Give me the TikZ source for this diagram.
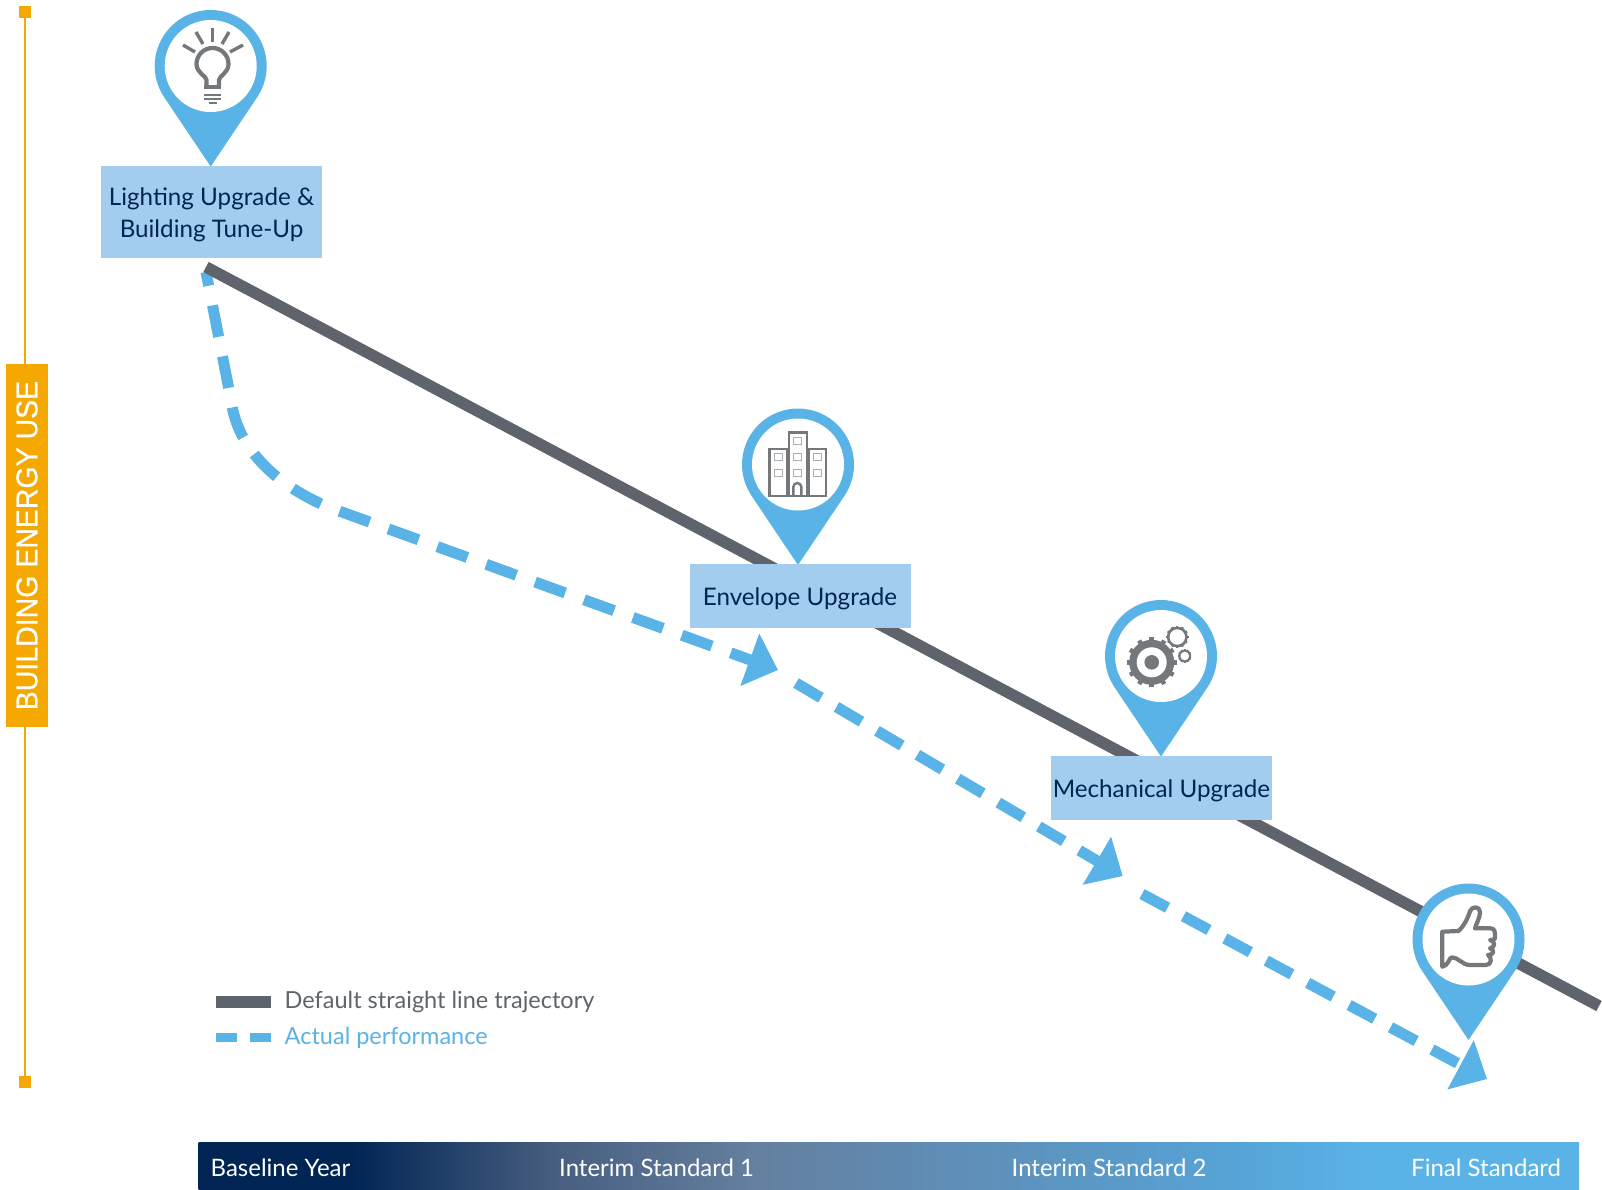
\documentclass[tikz,border=0pt]{standalone}
\usepackage{fontspec}
\setmainfont{Lato}
\newfontfamily\tagfont[FakeBold=0.6,FakeStretch=0.95]{Liberation Sans}
\usetikzlibrary{arrows.meta}
\definecolor{pinblue}{HTML}{5AB3E6}
\definecolor{boxblue}{HTML}{A3CDEE}
\definecolor{navy}{HTML}{002554}
\definecolor{slate}{HTML}{5F636C}
\definecolor{iconc}{HTML}{75787B}
\definecolor{amber}{HTML}{F5A800}
\definecolor{barb}{HTML}{485F80}
\definecolor{barc}{HTML}{647F9F}
\definecolor{bard}{HTML}{5D92BD}
\definecolor{bare}{HTML}{56A5D8}
\pgfdeclarehorizontalshading{barshade}{100bp}{color(0bp)=(navy); color(30.5bp)=(navy); color(38bp)=(barb); color(45bp)=(barc); color(54.5bp)=(bard); color(63bp)=(bare); color(67.5bp)=(pinblue); color(100bp)=(pinblue)}
\tikzset{
  labelbox/.style={fill=boxblue,text=navy,align=center,font=\fontsize{24.2}{32}\selectfont,inner sep=0pt,anchor=north west},
  bartext/.style={text=white,font=\fontsize{24}{28}\selectfont,anchor=base west,inner sep=0pt},
  legendtext/.style={font=\fontsize{23.5}{28}\selectfont,anchor=base west,inner sep=0pt},
  trend/.style={slate,line width=11.5pt},
  actual/.style={pinblue,line width=11pt,dash pattern=on 29pt off 18pt,-{Triangle[length=30pt,width=54pt]}},
  iconline/.style={iconc,line width=4.2pt},
  thinwin/.style={iconc!60,line width=1pt}
}
\begin{document}
\begin{tikzpicture}[x=1pt,y=-1pt]
  \useasboundingbox (0,0) rectangle (1602,1189);
  % vertical axis
  \coordinate (axtop) at (25,12);
  \coordinate (axbot) at (25,1082);
  \draw[amber,line width=2.5pt] (axtop)--(axbot);
  \fill[amber] (19,6) rectangle (31,18);
  \fill[amber] (19,1076) rectangle (31,1088);
  \node[fill=amber,text=white,rotate=90,minimum width=363pt,minimum height=42pt,inner sep=0pt,font=\tagfont\fontsize{30}{30}\selectfont] (tag) at (27,545.5) {BUILDING ENERGY USE};
  % trajectories
  \coordinate (start) at (206,267);
  \coordinate (stop) at (1599,1006);
  \coordinate (a0) at (206,272);
  \coordinate (a1) at (778,670);
  \coordinate (b0) at (796,683);
  \coordinate (b1) at (1122.7,876);
  \coordinate (c0) at (1142,894);
  \coordinate (c1) at (1487,1079);
  \draw[actual,dash pattern=on 32pt off 20pt,dash phase=18pt] (a0)--(231,400) .. controls (236,440) and (265,480) .. (328,507)--(a1);
  \draw[actual] (b0)--(b1);
  \draw[actual] (c0)--(c1);
  \draw[trend] (start)--(stop);
  % pins
  \foreach \cx/\cy in {210.7/66,798/464.5,1161/656,1468.5/939.5}{
    \fill[pinblue] (\cx,\cy) ++(146:56) arc[start angle=146,end angle=394,radius=56]--(\cx,\cy+100.5)--cycle;
    \fill[white] (\cx,\cy) circle(46);
  }
  % bulb
  \draw[iconline] (206.5,87)--(206.5,80) .. controls (206.5,76) and (196.5,73) .. (196.5,64) arc[start angle=180,end angle=360,radius=16] .. controls (228.5,73) and (219,76) .. (219,80)--(219,87);
  \draw[iconline,line width=3.4pt] (212.5,28)--(212.5,42);
  \draw[iconline,line width=3.4pt] (196,32)--(203,44);
  \draw[iconline,line width=3.4pt] (229,32)--(222,44);
  \draw[iconline,line width=3.4pt] (183,45)--(195,52);
  \draw[iconline,line width=3.4pt] (243,45)--(230,52);
  \draw[iconline] (204,87)--(221,87);
  \draw[iconline,line width=2.8pt] (204,95)--(221,95);
  \draw[iconline,line width=2.8pt] (204,99)--(221,99);
  \draw[iconline,line width=2.8pt] (208.5,103)--(216.5,103);
  % buildings
  \draw[iconline,line width=2.4pt] (788.7,496) rectangle (806.7,432.3);
  \draw[iconline,line width=2.4pt] (769.3,496) rectangle (786.7,449);
  \draw[iconline,line width=2.4pt] (808.7,496) rectangle (826,449);
  \foreach \wx/\wy in {793.5/437,793.5/453,793.5/469,774/453,774/469,813.5/453,813.5/469}{
    \draw[thinwin] (\wx,\wy) rectangle (\wx+8,\wy+7.3);
  }
  \draw[iconline,line width=2.4pt] (793.3,496)--(793.3,487) arc[start angle=180,end angle=360,radius=4]--(801.3,496);
  % gears
  \foreach \gx/\gy/\gr/\gh/\gw in {1177.3/637/10.5/7.7/2.2,1184.7/656/6.5/4.3/1.6,1151.7/662.3/22.5/15/4.5}{
    \fill[white] (\gx,\gy) circle(\gr+3);
    \fill[iconc] (\gx,\gy) circle(\gr);
    \foreach \k in {1,...,12}{
      \draw[iconc,line width=\gw pt] (\gx,\gy) ++(\k*30:\gr-1)--++(\k*30:\gw*0.8);
    }
    \fill[white] (\gx,\gy) circle(\gh);
  }
  \fill[iconc] (1151.7,662.3) circle(7.3);
  % thumb
  \draw[iconline,line join=round] (1442.3,931.7)--(1458.3,931) .. controls (1464,926) and (1468,918) .. (1470,911) .. controls (1472,906) and (1480,906) .. (1480,912) .. controls (1480,918) and (1476,924) .. (1475,928.3)--(1490,928.3) .. controls (1495,928.3) and (1495,931) .. (1495,938) .. controls (1495,940) and (1490,940) .. (1490,940) .. controls (1496,941) and (1495,948) .. (1490,948.3) .. controls (1495,950) and (1494,955) .. (1488,955) .. controls (1492,957) and (1492,965) .. (1486,965)--(1470,965) .. controls (1462,965) and (1458,957) .. (1451.7,957.3) .. controls (1449,958) and (1448,966) .. (1442.3,966.7)--cycle;
  % label boxes
  \node[labelbox,minimum width=220.7pt,minimum height=92.3pt,text height=50pt,text depth=0pt] (lighting) at (101,165.7) {Lighting Upgrade \&\\Building Tune-Up};
  \node[labelbox,minimum width=221pt,minimum height=63.7pt,text height=18.5pt,text depth=0pt] (envelope) at (689.3,564) {Envelope Upgrade};
  \node[labelbox,minimum width=221pt,minimum height=63.7pt,text height=18.5pt,text depth=0pt] (mechanical) at (1050.7,755.7) {Mechanical Upgrade};
  % legend
  \coordinate (lg1) at (216,1002);
  \coordinate (lg2) at (271,1002);
  \coordinate (lg3) at (216,1037.5);
  \coordinate (lg4) at (271,1037.5);
  \draw[slate,line width=12pt] (lg1)--(lg2);
  \draw[pinblue,line width=9pt,dash pattern=on 21pt off 13pt] (lg3)--(lg4);
  \node[legendtext,text=slate] (deflabel) at (284.5,1008) {Default straight line trajectory};
  \node[legendtext,text=pinblue] (actlabel) at (284.5,1044) {Actual performance};
  % time bar
  \shade[shading=barshade] (198.5,1142) rectangle (1579,1189);
  \node[bartext] (t0) at (210.5,1176) {Baseline Year};
  \node[bartext] (t1) at (559,1176) {Interim Standard 1};
  \node[bartext] (t2) at (1011.5,1176) {Interim Standard 2};
  \node[bartext] (t3) at (1411,1176) {Final Standard};
\end{tikzpicture}
\end{document}
